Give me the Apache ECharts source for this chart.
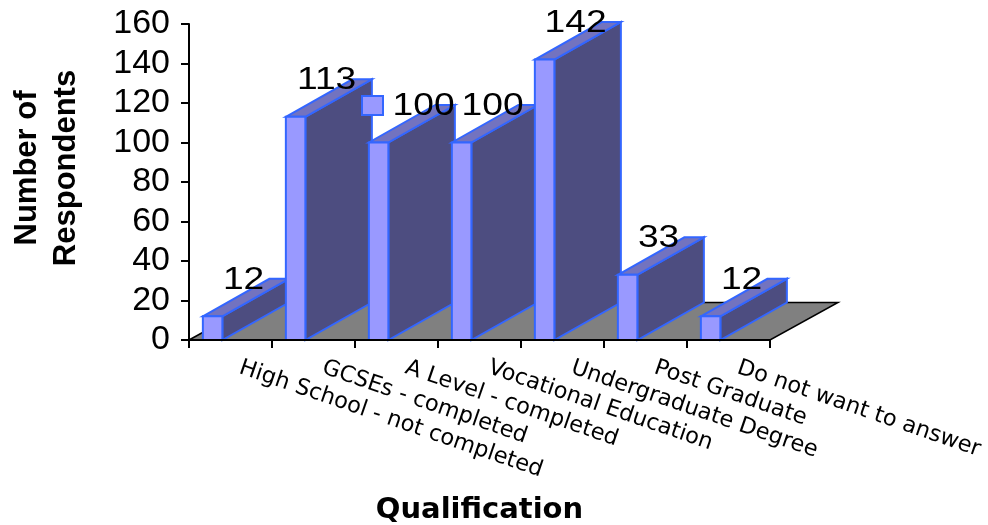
<!DOCTYPE html>
<html>
<head>
<meta charset="utf-8">
<style>html,body{margin:0;padding:0;background:#fff}#chart{width:988px;height:525px}</style>
<script src="https://cdn.jsdelivr.net/npm/echarts@6/dist/echarts.min.js"></script>
</head>
<body>
<div id="chart"></div>
<script>
// Qualification survey counts, drawn as an oblique 3D column chart.
const categories = [
  'High School - not completed',
  'GCSEs - completed',
  'A Level - completed',
  'Vocational Education',
  'Undergraduate Degree',
  'Post Graduate',
  'Do not want to answer'
];
const respondents = [12, 113, 100, 100, 142, 33, 12];
const yAxisMax = 160;
const yAxisStep = 20;

// Oblique projection of the depth axis, in pixels
const DEPTH_X = 66.5;
const DEPTH_Y = -37.5;
const FLOOR_DEPTH_X = 68;
const EDGE = '#3366FF';
const FRONT = '#9999FF';
const SIDE = '#4D4D80';
const TOP = '#7373BF';
const LABEL_STRETCH = 1.2;

const edgeStyle = fill => ({ fill: fill, stroke: EDGE, lineWidth: 2, lineJoin: 'miter' });

function renderColumn(params, api) {
  const band = api.size([1, 0])[0];
  const base = api.coord([api.value(0), 0]);
  const top = api.coord([api.value(0), api.value(1)]);
  const x0 = base[0] - band * 0.333;
  const x1 = x0 + band * 0.235;
  const yb = base[1];
  const yt = top[1];
  // The A Level label sits clear of the legend key
  const labelShift = params.dataIndex === 2 ? 45 : 31;
  return {
    type: 'group',
    children: [
      { type: 'polygon', shape: { points: [[x1, yt], [x1 + DEPTH_X, yt + DEPTH_Y], [x1 + DEPTH_X, yb + DEPTH_Y], [x1, yb]] }, style: edgeStyle(SIDE) },
      { type: 'polygon', shape: { points: [[x0, yt], [x0 + DEPTH_X, yt + DEPTH_Y], [x1 + DEPTH_X, yt + DEPTH_Y], [x1, yt]] }, style: edgeStyle(TOP) },
      { type: 'rect', shape: { x: x0, y: yt, width: x1 - x0, height: yb - yt }, style: edgeStyle(FRONT) },
      {
        type: 'text',
        x: (x0 + x1) / 2 + labelShift,
        y: yt - 36,
        scaleX: LABEL_STRETCH,
        z2: 50,
        style: {
          text: String(api.value(1)),
          font: '31px "Liberation Sans", Arial, sans-serif',
          fill: '#000',
          align: 'center',
          verticalAlign: 'middle'
        }
      }
    ]
  };
}

function renderFloor(params, api) {
  const band = api.size([1, 0])[0];
  const left = api.coord([0, 0]);
  const right = api.coord([categories.length - 1, 0]);
  const x0 = left[0] - band / 2;
  const x1 = right[0] + band / 2;
  const y = left[1];
  return {
    type: 'polygon',
    shape: { points: [[x0, y], [x0 + FLOOR_DEPTH_X, y + DEPTH_Y], [x1 + FLOOR_DEPTH_X, y + DEPTH_Y], [x1, y]] },
    style: { fill: '#808080', stroke: '#000', lineWidth: 1.5 }
  };
}

const chart = echarts.init(document.getElementById('chart'), null, { renderer: 'canvas' });
chart.setOption({
  animation: false,
  backgroundColor: '#fff',
  grid: { left: 189, right: 218, top: 24, bottom: 185, containLabel: false, outerBoundsMode: 'none' },
  legend: {
    left: 361,
    top: 95,
    padding: 0,
    itemWidth: 21,
    itemHeight: 19,
    selectedMode: false,
    formatter: () => '',
    data: [{ name: 'Respondents', icon: 'rect', itemStyle: { color: FRONT, borderColor: EDGE, borderWidth: 2 } }]
  },
  xAxis: {
    type: 'category',
    data: categories,
    z: 5,
    name: 'Qualification',
    nameLocation: 'middle',
    nameGap: 170,
    nameTextStyle: { fontFamily: 'DejaVu Sans', fontWeight: 'bold', fontSize: 29, color: '#000', verticalAlign: 'middle' },
    axisLine: { lineStyle: { color: '#000', width: 2 } },
    axisTick: { show: true, length: 8, alignWithLabel: false, lineStyle: { color: '#000', width: 2 } },
    axisLabel: {
      interval: 0,
      rotate: -19,
      margin: 24,
      padding: [0, 0, 0, 10],
      hideOverlap: false,
      fontFamily: 'DejaVu Sans',
      fontSize: 22.5,
      color: '#000'
    }
  },
  yAxis: {
    type: 'value',
    min: 0,
    max: yAxisMax,
    interval: yAxisStep,
    z: 5,
    name: 'Number of\nRespondents',
    nameLocation: 'middle',
    nameRotate: 90,
    nameGap: 142,
    nameTextStyle: { fontFamily: 'Liberation Sans', fontWeight: 'bold', fontSize: 31, lineHeight: 39, color: '#000', align: 'center', verticalAlign: 'middle', padding: [0, 0, 0, 28] },
    splitLine: { show: false },
    axisLine: { show: true, lineStyle: { color: '#000', width: 2 } },
    axisTick: { show: true, length: 8, lineStyle: { color: '#000', width: 2 } },
    axisLabel: { margin: 19, fontFamily: 'Liberation Sans', fontSize: 34, color: '#000' }
  },
  series: [
    {
      type: 'custom',
      name: 'Floor',
      z: 1,
      silent: true,
      renderItem: renderFloor,
      data: [[0, 0]]
    },
    {
      type: 'custom',
      name: 'Respondents',
      z: 2,
      itemStyle: { color: FRONT },
      renderItem: renderColumn,
      encode: { x: 0, y: 1 },
      data: respondents.map((v, i) => [i, v])
    }
  ]
});
</script>
</body>
</html>
